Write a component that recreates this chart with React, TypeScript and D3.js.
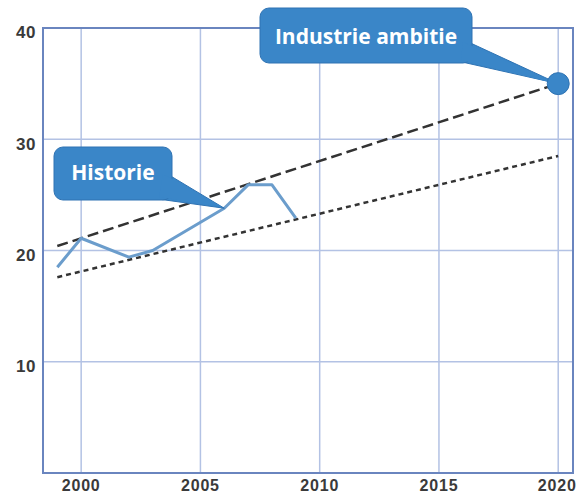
import React from "react";
import * as d3 from "d3";

const histYears = [1999, 2000, 2002, 2003, 2006, 2007, 2008, 2009];
const histValues = [18.5, 21.1, 19.4, 20.0, 23.8, 25.9, 25.9, 22.9];
const trendYears = [1999, 2020];
const ambitionValues = [20.4, 35];
const lowerValues = [17.6, 28.5];
const xTicks = [2000, 2005, 2010, 2015, 2020];
const yTicks = [10, 20, 30, 40];
const ambitionPoint = { year: 2020, value: 35 };

const W = 579;
const H = 497;

export default function App() {
  const x = d3.scaleLinear().domain([1998.4, 2020.62]).range([43, 573]);
  const y = d3.scaleLinear().domain([0, 40]).range([473, 28]);

  const line = d3
    .line<[number, number]>()
    .x((d) => x(d[0]))
    .y((d) => y(d[1]));

  const hist = histYears.map((yr, i) => [yr, histValues[i]] as [number, number]);
  const amb = trendYears.map((yr, i) => [yr, ambitionValues[i]] as [number, number]);
  const low = trendYears.map((yr, i) => [yr, lowerValues[i]] as [number, number]);

  const gridColor = "#b3c2e4";
  const frameColor = "#6a85bf";
  const boxFill = "#3a86c8";
  const boxStroke = "#2f73b3";

  const cx = x(ambitionPoint.year);
  const cy = y(ambitionPoint.value);
  const histTip: [number, number] = [x(2006), y(23.8)];

  return (
    <svg
      width={W}
      height={H}
      style={{ position: "absolute", left: 0, top: 0, background: "#fff" }}
    >
      <rect x={0} y={0} width={W} height={H} fill="#fff" />
      {/* grid */}
      {xTicks.map((t) => (
        <line key={"gx" + t} x1={x(t)} x2={x(t)} y1={y(40)} y2={y(0)} stroke={gridColor} strokeWidth={1.5} />
      ))}
      {yTicks.filter((t) => t < 40).map((t) => (
        <line key={"gy" + t} x1={x(1998.4)} x2={x(2020.62)} y1={y(t)} y2={y(t)} stroke={gridColor} strokeWidth={1.5} />
      ))}
      {/* frame */}
      <rect
        x={x(1998.4)}
        y={y(40)}
        width={x(2020.62) - x(1998.4)}
        height={y(0) - y(40)}
        fill="none"
        stroke={frameColor}
        strokeWidth={2}
      />
      {/* tick labels */}
      {yTicks.map((t) => (
        <text
          key={"ly" + t}
          x={36}
          y={y(t) + 6}
          textAnchor="end"
          dominantBaseline="middle"
          fontFamily="Liberation Sans, Arial, sans-serif"
          fontWeight="bold"
          fontSize={17}
          fill="#3a3a3a"
          letterSpacing={0.6}
        >
          {t}
        </text>
      ))}
      {xTicks.map((t) => (
        <text
          key={"lx" + t}
          x={t === 2020 ? x(t) - 1 : x(t)}
          y={491}
          textAnchor="middle"
          fontFamily="Liberation Sans, Arial, sans-serif"
          fontWeight="bold"
          fontSize={16}
          fill="#3a3a3a"
          letterSpacing={0.8}
        >
          {t}
        </text>
      ))}
      {/* trend lines */}
      <path d={line(amb) || ""} fill="none" stroke="#333" strokeWidth={2.5} strokeDasharray="11,5" />
      <path d={line(low) || ""} fill="none" stroke="#333" strokeWidth={2.5} strokeDasharray="5,4" />
      {/* history */}
      <path d={line(hist) || ""} fill="none" stroke="#6b9dcc" strokeWidth={3} strokeLinejoin="round" />
      {/* Historie callout */}
      <g>
        <polygon
          points={`164,172 ${histTip[0]},${histTip[1]} 158,199`}
          fill={boxFill}
          stroke={boxStroke}
          strokeWidth={1}
        />
        <rect x={54} y={147} width={118} height={53} rx={9} fill={boxFill} stroke={boxStroke} strokeWidth={1} />
        <polygon points={`163,174 ${histTip[0] - 2},${histTip[1] - 1} 159,197`} fill={boxFill} />
        <text
          x={113}
          y={172}
          textAnchor="middle"
          dominantBaseline="central"
          fontFamily="Open Sans, Noto Sans, sans-serif"
          fontWeight="bold"
          fontSize={21}
          fill="#fff"
        >
          Historie
        </text>
      </g>
      {/* Industrie ambitie callout */}
      <g>
        <polygon points={`464,40 ${cx},${cy} 462,62`} fill={boxFill} stroke={boxStroke} strokeWidth={1} />
        <rect x={260} y={8} width={212} height={55} rx={9} fill={boxFill} stroke={boxStroke} strokeWidth={1} />
        <polygon points={`463,42 ${cx - 2},${cy} 461,60`} fill={boxFill} />
        <circle cx={cx} cy={cy} r={11} fill={boxFill} stroke={boxStroke} strokeWidth={1} />
        <text
          x={366}
          y={36}
          textAnchor="middle"
          dominantBaseline="central"
          fontFamily="Open Sans, Noto Sans, sans-serif"
          fontWeight="bold"
          fontSize={21}
          fill="#fff"
        >
          Industrie ambitie
        </text>
      </g>
    </svg>
  );
}
